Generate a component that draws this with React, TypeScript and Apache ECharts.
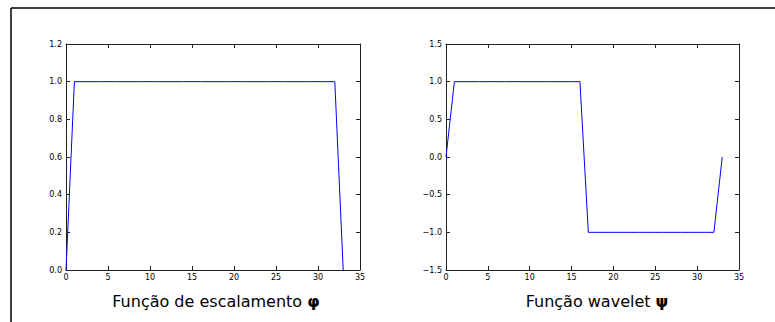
import React, { useEffect, useRef } from "react";
import * as echarts from "echarts";

const xs = [0, 1, 2, 3, 4, 5, 6, 7, 8, 9, 10, 11, 12, 13, 14, 15, 16, 17, 18, 19, 20, 21, 22, 23, 24, 25, 26, 27, 28, 29, 30, 31, 32, 33];
const phi = [0, 1, 1, 1, 1, 1, 1, 1, 1, 1, 1, 1, 1, 1, 1, 1, 1, 1, 1, 1, 1, 1, 1, 1, 1, 1, 1, 1, 1, 1, 1, 1, 1, 0];
const psi = [0, 1, 1, 1, 1, 1, 1, 1, 1, 1, 1, 1, 1, 1, 1, 1, 1, -1, -1, -1, -1, -1, -1, -1, -1, -1, -1, -1, -1, -1, -1, -1, -1, 0];
const titleTexts = ["Função de escalamento ", "Função wavelet "];
const titleSymbols = ["φ", "ψ"];

const FONT = "DejaVu Sans";

export default function App() {
  const ref = useRef<HTMLDivElement>(null);
  useEffect(() => {
    const chart = echarts.init(ref.current!, null, { renderer: "svg" });
    const grids = [
      { left: 66, top: 44, width: 294, height: 226 },
      { left: 446, top: 44, width: 293, height: 226 },
    ];
    const lineC = "#222";
    const fmtY = (v: number) => (v < 0 ? "\u2212" + Math.abs(v).toFixed(1) : v.toFixed(1));
    const mkX = (gi: number, pos: "bottom" | "top") => ({
      type: "value",
      gridIndex: gi,
      position: pos,
      min: 0,
      max: 35,
      interval: 5,
      splitLine: { show: false },
      axisLine: { show: true, onZero: false, lineStyle: { color: lineC, width: 1 } },
      axisTick: { show: true, inside: true, length: 4, lineStyle: { color: lineC } },
      axisLabel: {
        show: pos === "bottom",
        fontFamily: FONT,
        fontSize: 8,
        color: "#000",
        margin: 3,
      },
    });
    const mkY = (gi: number, pos: "left" | "right", min: number, max: number, iv: number) => ({
      type: "value",
      gridIndex: gi,
      position: pos,
      min,
      max,
      interval: iv,
      splitLine: { show: false },
      axisLine: { show: true, onZero: false, lineStyle: { color: lineC, width: 1 } },
      axisTick: { show: true, inside: true, length: 4, lineStyle: { color: lineC } },
      axisLabel: {
        show: pos === "left",
        fontFamily: FONT,
        fontSize: 8,
        color: "#000",
        margin: 4,
        formatter: fmtY,
      },
    });
    const mkTitle = (i: number, cx: number) => ({
      text: "{a|" + titleTexts[i] + "}{b|" + titleSymbols[i] + "}",
      left: cx,
      top: 288,
      textAlign: "center",
      textStyle: {
        fontFamily: FONT,
        fontSize: 16,
        fontWeight: "normal",
        color: "#000",
        rich: {
          a: { fontFamily: FONT, fontSize: 16, color: "#000" },
          b: { fontFamily: FONT, fontSize: 16, fontWeight: "bold", color: "#000" },
        },
      },
    });
    chart.setOption({
      animation: false,
      backgroundColor: "#fff",
      grid: grids,
      xAxis: [mkX(0, "bottom"), mkX(0, "top"), mkX(1, "bottom"), mkX(1, "top")],
      yAxis: [
        mkY(0, "left", 0, 1.2, 0.2),
        mkY(0, "right", 0, 1.2, 0.2),
        mkY(1, "left", -1.5, 1.5, 0.5),
        mkY(1, "right", -1.5, 1.5, 0.5),
      ],
      title: [mkTitle(0, 211), mkTitle(1, 592)],
      series: [
        {
          type: "line",
          xAxisIndex: 0,
          yAxisIndex: 0,
          data: xs.map((x, i) => [x, phi[i]]),
          showSymbol: false,
          lineStyle: { color: "#0000ff", width: 1 },
          silent: true,
        },
        {
          type: "line",
          xAxisIndex: 2,
          yAxisIndex: 2,
          data: xs.map((x, i) => [x, psi[i]]),
          showSymbol: false,
          lineStyle: { color: "#0000ff", width: 1 },
          silent: true,
        },
      ],
      graphic: [
        { type: "line", shape: { x1: 11, y1: 8, x2: 775, y2: 8 }, style: { stroke: "#000", lineWidth: 1.5 } },
        { type: "line", shape: { x1: 11, y1: 8, x2: 11, y2: 322 }, style: { stroke: "#000", lineWidth: 1.5 } },
      ],
    });
    return () => chart.dispose();
  }, []);
  return (
    <div
      ref={ref}
      style={{ position: "fixed", left: 0, top: 0, width: 775, height: 322 }}
    />
  );
}
